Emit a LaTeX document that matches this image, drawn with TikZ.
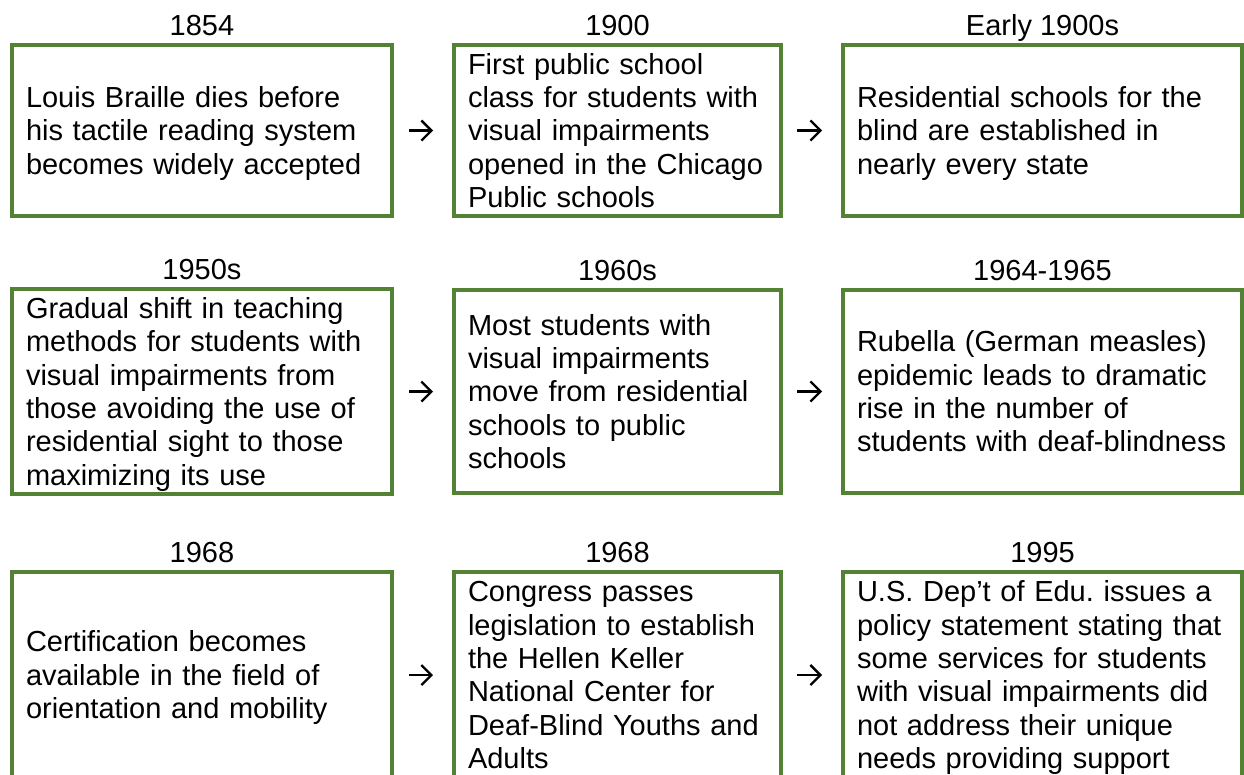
\documentclass[tikz,border=0pt]{standalone}
\usepackage{fontspec}
\setmainfont{Liberation Sans}
\frenchspacing
\usetikzlibrary{arrows.meta}
\definecolor{framegreen}{RGB}{84,130,53}
\begin{document}
\begin{tikzpicture}[x=1pt,y=-1pt,
  event/.style={draw=framegreen, line width=4pt, rectangle, align=left,
    inner xsep=14pt, inner ysep=2pt,
    font=\fontsize{29}{33.35}\selectfont,
    execute at begin node=\rule{0pt}{27pt},
    execute at end node=\rule[-6.5pt]{0pt}{6.5pt}},
  colA/.style={text width=352pt},
  colB/.style={text width=299pt},
  colC/.style={text width=371pt},
  rowA/.style={minimum height=171pt},
  rowB/.style={minimum height=203pt},
  rowC/.style={minimum height=206pt},
  year/.style={anchor=base, inner sep=0pt, font=\fontsize{29}{33.35}\selectfont},
  flow/.style={line width=2.3pt, -{Straight Barb[length=10pt,width=20pt]}}
]
\useasboundingbox (0,0) rectangle (1244,774);

% ---- first row ----
\node[event, colA, rowA] (e11) at (202,130.5)
  {Louis Braille dies before\\his tactile reading system\\becomes widely accepted};
\node[event, colB, rowA] (e12) at (617.5,130.5)
  {First public school\\class for students with\\visual impairments\\opened in the Chicago\\Public schools};
\node[event, colC, rowA] (e13) at (1042.5,130.5)
  {Residential schools for the\\blind are established in\\nearly every state};

% ---- second row ----
\node[event, colA, rowB] (e21) at (202,391.5)
  {Gradual shift in teaching\\methods for students with\\visual impairments from\\those avoiding the use of\\residential sight to those\\maximizing its use};
\node[event, colB, rowB] (e22) at (617.5,391.5)
  {Most students with\\visual impairments\\move from residential\\schools to public\\schools};
\node[event, colC, rowB] (e23) at (1042.5,391.5)
  {Rubella (German measles)\\epidemic leads to dramatic\\rise in the number of\\students with deaf-blindness};

% ---- third row ----
\node[event, colA, rowC] (e31) at (202,675)
  {Certification becomes\\available in the field of\\orientation and mobility};
\node[event, colB, rowC] (e32) at (617.5,675)
  {Congress passes\\legislation to establish\\the Hellen Keller\\National Center for\\Deaf-Blind Youths and\\Adults};
\node[event, colC, rowC] (e33) at (1042.5,675)
  {U.S. Dep’t of Edu. issues a\\policy statement stating that\\some services for students\\with visual impairments did\\not address their unique\\needs providing support};

% ---- dates above the boxes ----
\node[year] (y11) at ([yshift=7.5pt]e11.north) {1854};
\node[year] (y12) at ([yshift=7.5pt]e12.north) {1900};
\node[year] (y13) at ([yshift=7.5pt]e13.north) {Early 1900s};
\node[year] (y21) at ([yshift=7.5pt]e21.north) {1950s};
\node[year] (y22) at ([yshift=7.5pt]e22.north) {1960s};
\node[year] (y23) at ([yshift=7.5pt]e23.north) {1964-1965};
\node[year] (y31) at ([yshift=7.5pt]e31.north) {1968};
\node[year] (y32) at ([yshift=7.5pt]e32.north) {1968};
\node[year] (y33) at ([yshift=7.5pt]e33.north) {1995};

% ---- arrows between the boxes ----
\foreach \r in {1,2,3} {
  \draw[flow] ([xshift=15pt]e\r1.east) -- ([xshift=-19pt]e\r2.west);
  \draw[flow] ([xshift=14pt]e\r2.east) -- ([xshift=-19pt]e\r3.west);
}
\end{tikzpicture}
\end{document}
